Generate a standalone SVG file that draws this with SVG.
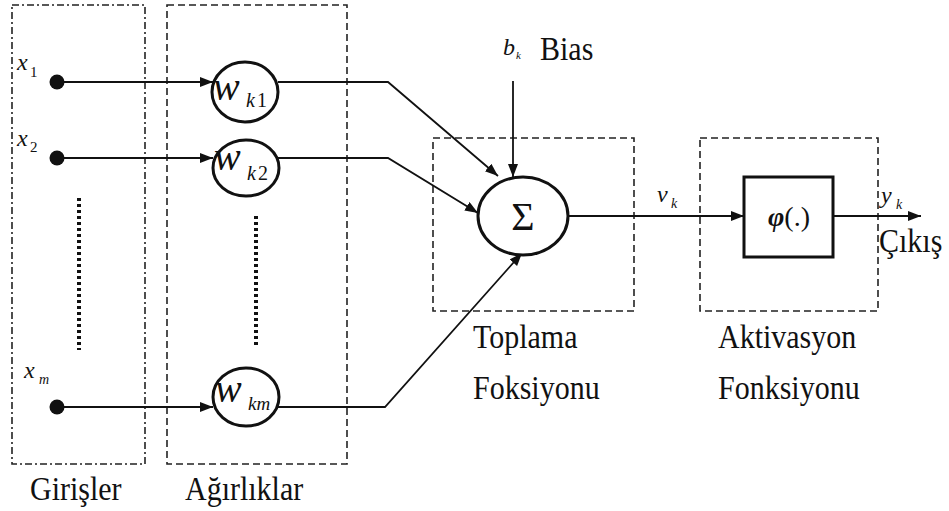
<svg xmlns="http://www.w3.org/2000/svg" width="949" height="511" viewBox="0 0 949 511">
<defs>
<style>
.t{font-family:"Liberation Serif","Times New Roman",serif;fill:#111}
.lbl{font-size:30px}
.it{font-style:italic}
.line{stroke:#111;stroke-width:1.8;fill:none}
.dash{stroke:#222;stroke-width:1.6;fill:none;stroke-dasharray:7 4}
.dashdot{stroke:#222;stroke-width:1.6;fill:none;stroke-dasharray:7 3 2 3}
.node{stroke:#111;stroke-width:3;fill:#fff}
.dots{stroke:#111;stroke-width:4;stroke-dasharray:3 3;fill:none}
</style>
<marker id="arr" markerUnits="userSpaceOnUse" markerWidth="14" markerHeight="12" refX="13" refY="5" orient="auto">
<path d="M0,0 L13,5 L0,10 z" fill="#111"/>
</marker>
</defs>
<rect width="949" height="511" fill="#fff"/>

<g id="frames">
<rect id="girisler-box" class="dashdot" x="12" y="5" width="133" height="459"/>
<rect id="agirliklar-box" class="dash" x="167" y="5" width="180" height="459"/>
<rect id="toplama-box" class="dash" x="433" y="138" width="201" height="173"/>
<rect id="aktivasyon-box" class="dash" x="700" y="138" width="178" height="173"/>
</g>

<g id="connectors">
<line class="line" x1="57" y1="82" x2="213" y2="82" marker-end="url(#arr)"/>
<line class="line" x1="57" y1="158" x2="213" y2="158" marker-end="url(#arr)"/>
<line class="line" x1="57" y1="407" x2="213" y2="407" marker-end="url(#arr)"/>
<polyline class="line" points="278,82 388,82 498,176" marker-end="url(#arr)"/>
<polyline class="line" points="278,158 388,158 478,213" marker-end="url(#arr)"/>
<polyline class="line" points="278,407 385,407 522,253" marker-end="url(#arr)"/>
<line class="line" x1="513" y1="81" x2="513" y2="177" marker-end="url(#arr)"/>
<line class="line" x1="568" y1="216" x2="744" y2="216" marker-end="url(#arr)"/>
<line class="line" x1="833" y1="216" x2="921" y2="216" marker-end="url(#arr)"/>
</g>

<g id="inputs">
<circle cx="57" cy="82" r="7.5" fill="#111"/>
<circle cx="57" cy="158" r="7.5" fill="#111"/>
<circle cx="57" cy="407" r="7.5" fill="#111"/>
<line class="dots" x1="79" y1="198" x2="79" y2="350"/>
<text class="t it" x="17" y="70" font-size="24">x</text>
<text class="t" x="30" y="77" font-size="15">1</text>
<text class="t it" x="17" y="146" font-size="24">x</text>
<text class="t" x="30" y="152" font-size="15">2</text>
<text class="t it" x="24" y="378" font-size="24">x</text>
<text class="t it" x="39" y="384" font-size="14">m</text>
</g>

<g id="wk1">
<ellipse class="node" cx="245" cy="92" rx="33" ry="30"/>
<text class="t it" x="213" y="100" font-size="40">w</text>
<text class="t it" x="246" y="107" font-size="20">k</text>
<text class="t" x="257" y="107" font-size="20">1</text>
</g>
<g id="wk2">
<ellipse class="node" cx="246" cy="168" rx="33" ry="28"/>
<text class="t it" x="214" y="170" font-size="40">w</text>
<text class="t it" x="247" y="180" font-size="20">k</text>
<text class="t" x="258" y="180" font-size="20">2</text>
</g>
<line class="dots" x1="256" y1="216" x2="256" y2="348"/>
<g id="wkm">
<ellipse class="node" cx="246" cy="397" rx="33" ry="29"/>
<text class="t it" x="215" y="402" font-size="40">w</text>
<text class="t it" x="248" y="410" font-size="19">km</text>
</g>

<g id="sum">
<ellipse class="node" cx="523" cy="216" rx="45" ry="39"/>
<text class="t" x="523" y="230" font-size="40" text-anchor="middle">Σ</text>
</g>
<g id="bias">
<text class="t it" x="503" y="55" font-size="24">b</text>
<text class="t it" x="516" y="59" font-size="11">k</text>
<text class="t lbl" transform="translate(540,60) scale(1,1.15)">Bias</text>
</g>

<g id="activation">
<rect class="node" x="744" y="177" width="89" height="80"/>
<text class="t" x="789" y="226" font-size="28" text-anchor="middle"><tspan font-style="italic" font-weight="bold">φ</tspan>(.)</text>
</g>

<g id="signals">
<text class="t it" x="657" y="202" font-size="24">v</text>
<text class="t it" x="671" y="208" font-size="14">k</text>
<text class="t it" x="881" y="203" font-size="24">y</text>
<text class="t it" x="896" y="209" font-size="14">k</text>
<text class="t lbl" transform="translate(879,252) scale(1,1.15)">Çıkış</text>
</g>

<g id="labels">
<text class="t lbl" transform="translate(30,500) scale(1,1.15)">Girişler</text>
<text class="t lbl" transform="translate(185,500) scale(1,1.15)">Ağırlıklar</text>
<text class="t lbl" transform="translate(473,348) scale(1,1.15)">Toplama</text>
<text class="t lbl" transform="translate(473,399) scale(1,1.15)">Foksiyonu</text>
<text class="t lbl" transform="translate(718,348) scale(1,1.15)">Aktivasyon</text>
<text class="t lbl" transform="translate(718,399) scale(1,1.15)">Fonksiyonu</text>
</g>
</svg>
